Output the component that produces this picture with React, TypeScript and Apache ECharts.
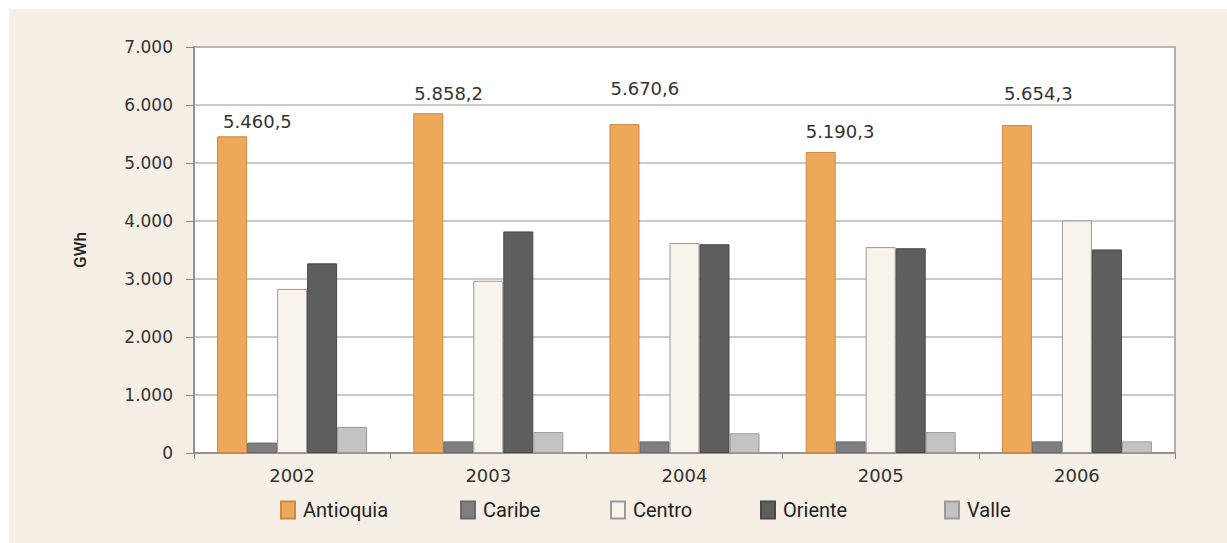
import React, { useEffect, useRef } from "react";
import * as echarts from "echarts";

const years = ["2002", "2003", "2004", "2005", "2006"];
const seriesNames = ["Antioquia", "Caribe", "Centro", "Oriente", "Valle"];
const antioquia = [5460.5, 5858.2, 5670.6, 5190.3, 5654.3];
const caribe = [180, 200, 200, 200, 200];
const centro = [2830, 2970, 3620, 3550, 4010];
const oriente = [3270, 3820, 3600, 3530, 3510];
const valle = [450, 360, 340, 360, 200];

// label placement offsets (relative to bar top-left), visual only
const labelOffsets = [
  [6, -15],
  [1, -20],
  [1, -36],
  [0, -20],
  [2, -32],
];

const fills = ["#EEA85A", "#7E7D82", "#F8F3EB", "#5F5E5E", "#C3C3C3"];
const borders = ["#C88A45", "#6A696D", "#9A9A9A", "#4A4A4A", "#9A9A9A"];
const legendLefts = [271, 451, 601, 751, 935];

function fmtThousands(n: number): string {
  const s = Math.round(n).toString();
  return s.replace(/\B(?=(\d{3})+(?!\d))/g, ".");
}
function fmtDecimal(n: number): string {
  const [i, d] = n.toFixed(1).split(".");
  return i.replace(/\B(?=(\d{3})+(?!\d))/g, ".") + "," + d;
}

export default function App() {
  const ref = useRef<HTMLDivElement>(null);
  useEffect(() => {
    if (!ref.current) return;
    const chart = echarts.init(ref.current, undefined, { renderer: "svg" });
    const values = [antioquia, caribe, centro, oriente, valle];
    const series = seriesNames.map((name, si) => ({
      name,
      type: "bar",
      barWidth: 30,
      barGap: "0%",
      itemStyle: { color: fills[si], borderColor: borders[si], borderWidth: 1 },
      emphasis: { disabled: true },
      data:
        si === 0
          ? values[si].map((v, i) => ({
              value: v,
              label: {
                show: true,
                position: labelOffsets[i],
                align: "left",
                verticalAlign: "middle",
                formatter: () => fmtDecimal(v),
                fontFamily: "DejaVu Sans",
                fontSize: 18,
                color: "#333",
              },
            }))
          : values[si],
    }));
    const legends = seriesNames.map((name, i) => ({
      data: [name],
      left: legendLefts[i],
      top: 491,
      padding: 0,
      itemWidth: 14,
      itemHeight: 17,
      itemGap: 0,
      icon: "rect",
      selectedMode: false,
      textStyle: { fontFamily: "Roboto", fontSize: 20, color: "#222", padding: [0, 0, 0, 3] },
    }));
    chart.setOption({
      animation: false,
      backgroundColor: "#F6EFE6",
      legend: legends,
      grid: {
        left: 185,
        right: 52,
        top: 38,
        bottom: 90,
        show: true,
        backgroundColor: "#FFFFFF",
        borderColor: "#999",
        borderWidth: 1.5,
      },
      xAxis: {
        type: "category",
        data: years,
        axisLine: { show: true, lineStyle: { color: "#888", width: 1.5 } },
        axisTick: { show: true, length: 6, lineStyle: { color: "#888" } },
        axisLabel: { fontFamily: "DejaVu Sans", fontSize: 18, color: "#333", margin: 13 },
      },
      yAxis: {
        type: "value",
        min: 0,
        max: 7000,
        interval: 1000,
        name: "GWh",
        nameLocation: "middle",
        nameRotate: 90,
        nameGap: 106,
        nameTextStyle: { fontFamily: "Roboto", fontSize: 17, fontWeight: 500, color: "#222" },
        axisLine: { show: true, lineStyle: { color: "#888", width: 1.5 } },
        axisTick: { show: true, length: 8, lineStyle: { color: "#888" } },
        splitLine: { show: true, lineStyle: { color: "#B8B8B8", width: 1.5 } },
        axisLabel: {
          fontFamily: "DejaVu Sans",
          fontSize: 17,
          color: "#333",
          margin: 21,
          formatter: (v: number) => fmtThousands(v),
        },
      },
      series,
    });
    return () => chart.dispose();
  }, []);
  return (
    <div style={{ position: "fixed", left: 0, top: 0, width: 1227, height: 543, background: "#FFFFFF" }}>
      <div ref={ref} style={{ position: "absolute", left: 9, top: 9, width: 1218, height: 534 }} />
    </div>
  );
}
